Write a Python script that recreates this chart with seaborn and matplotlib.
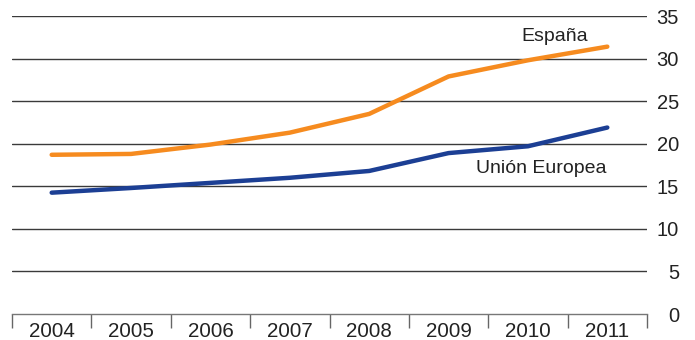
import matplotlib
matplotlib.use("Agg")
import matplotlib.pyplot as plt
import seaborn as sns
import pandas as pd
import numpy as np

years = ["2004", "2005", "2006", "2007", "2008", "2009", "2010", "2011"]
espana = [18.7, 18.8, 19.9, 21.3, 23.5, 27.9, 29.8, 31.4]
ue = [14.25, 14.8, 15.4, 16.0, 16.8, 18.9, 19.7, 21.9]
yticks = [0, 5, 10, 15, 20, 25, 30, 35]

sns.set_style("white")
plt.rcParams["font.family"] = ["Liberation Sans", "DejaVu Sans"]

df = pd.DataFrame({
    "year": years * 2,
    "value": espana + ue,
    "serie": ["España"] * len(years) + ["Unión Europea"] * len(years),
})

fig = plt.figure(figsize=(6.95, 3.4), dpi=100)
ax = fig.add_axes([12 / 695, 26 / 340, (647 - 12) / 695, (314 - 16) / 340])

for y in yticks[1:]:
    ax.axhline(y, color="#3a3a3a", lw=1.0, zorder=1)

sns.lineplot(data=df, x="year", y="value", hue="serie",
             palette={"España": "#F68B1F", "Unión Europea": "#1C3F94"},
             linewidth=3.2, legend=False, ax=ax, zorder=3, sort=False)

ax.set_xlim(-0.5, len(years) - 0.5)
ax.set_ylim(0, 35)
ax.set_xlabel("")
ax.set_ylabel("")

# x axis: boundary ticks, labels centered
ax.set_xticks(np.arange(-0.5, len(years), 1.0))
ax.set_xticklabels([])
ax.set_xticks(np.arange(len(years)), minor=True)
ax.set_xticklabels(years, minor=True, fontsize=14.8, color="#222222")
ax.tick_params(axis="x", which="major", direction="out", length=10,
               width=1, color="#666666", bottom=True)
ax.tick_params(axis="x", which="minor", length=0, pad=6)

# y axis on right
ax.yaxis.tick_right()
ax.set_yticks(yticks)
ax.set_yticklabels([str(v) for v in yticks], fontsize=14.5, color="#222222")
ax.tick_params(axis="y", length=0, pad=23)
for lab in ax.get_yticklabels():
    lab.set_horizontalalignment("right")

for s in ["top", "left", "right"]:
    ax.spines[s].set_visible(False)
ax.spines["bottom"].set_color("#777777")
ax.spines["bottom"].set_linewidth(1.0)

ax.text(6.34, 32.6, "España", fontsize=14, color="#222222",
        ha="center", va="center")
ax.text(6.17, 17.1, "Unión Europea", fontsize=14, color="#222222",
        ha="center", va="center")

fig.savefig("out.png", dpi=100)
